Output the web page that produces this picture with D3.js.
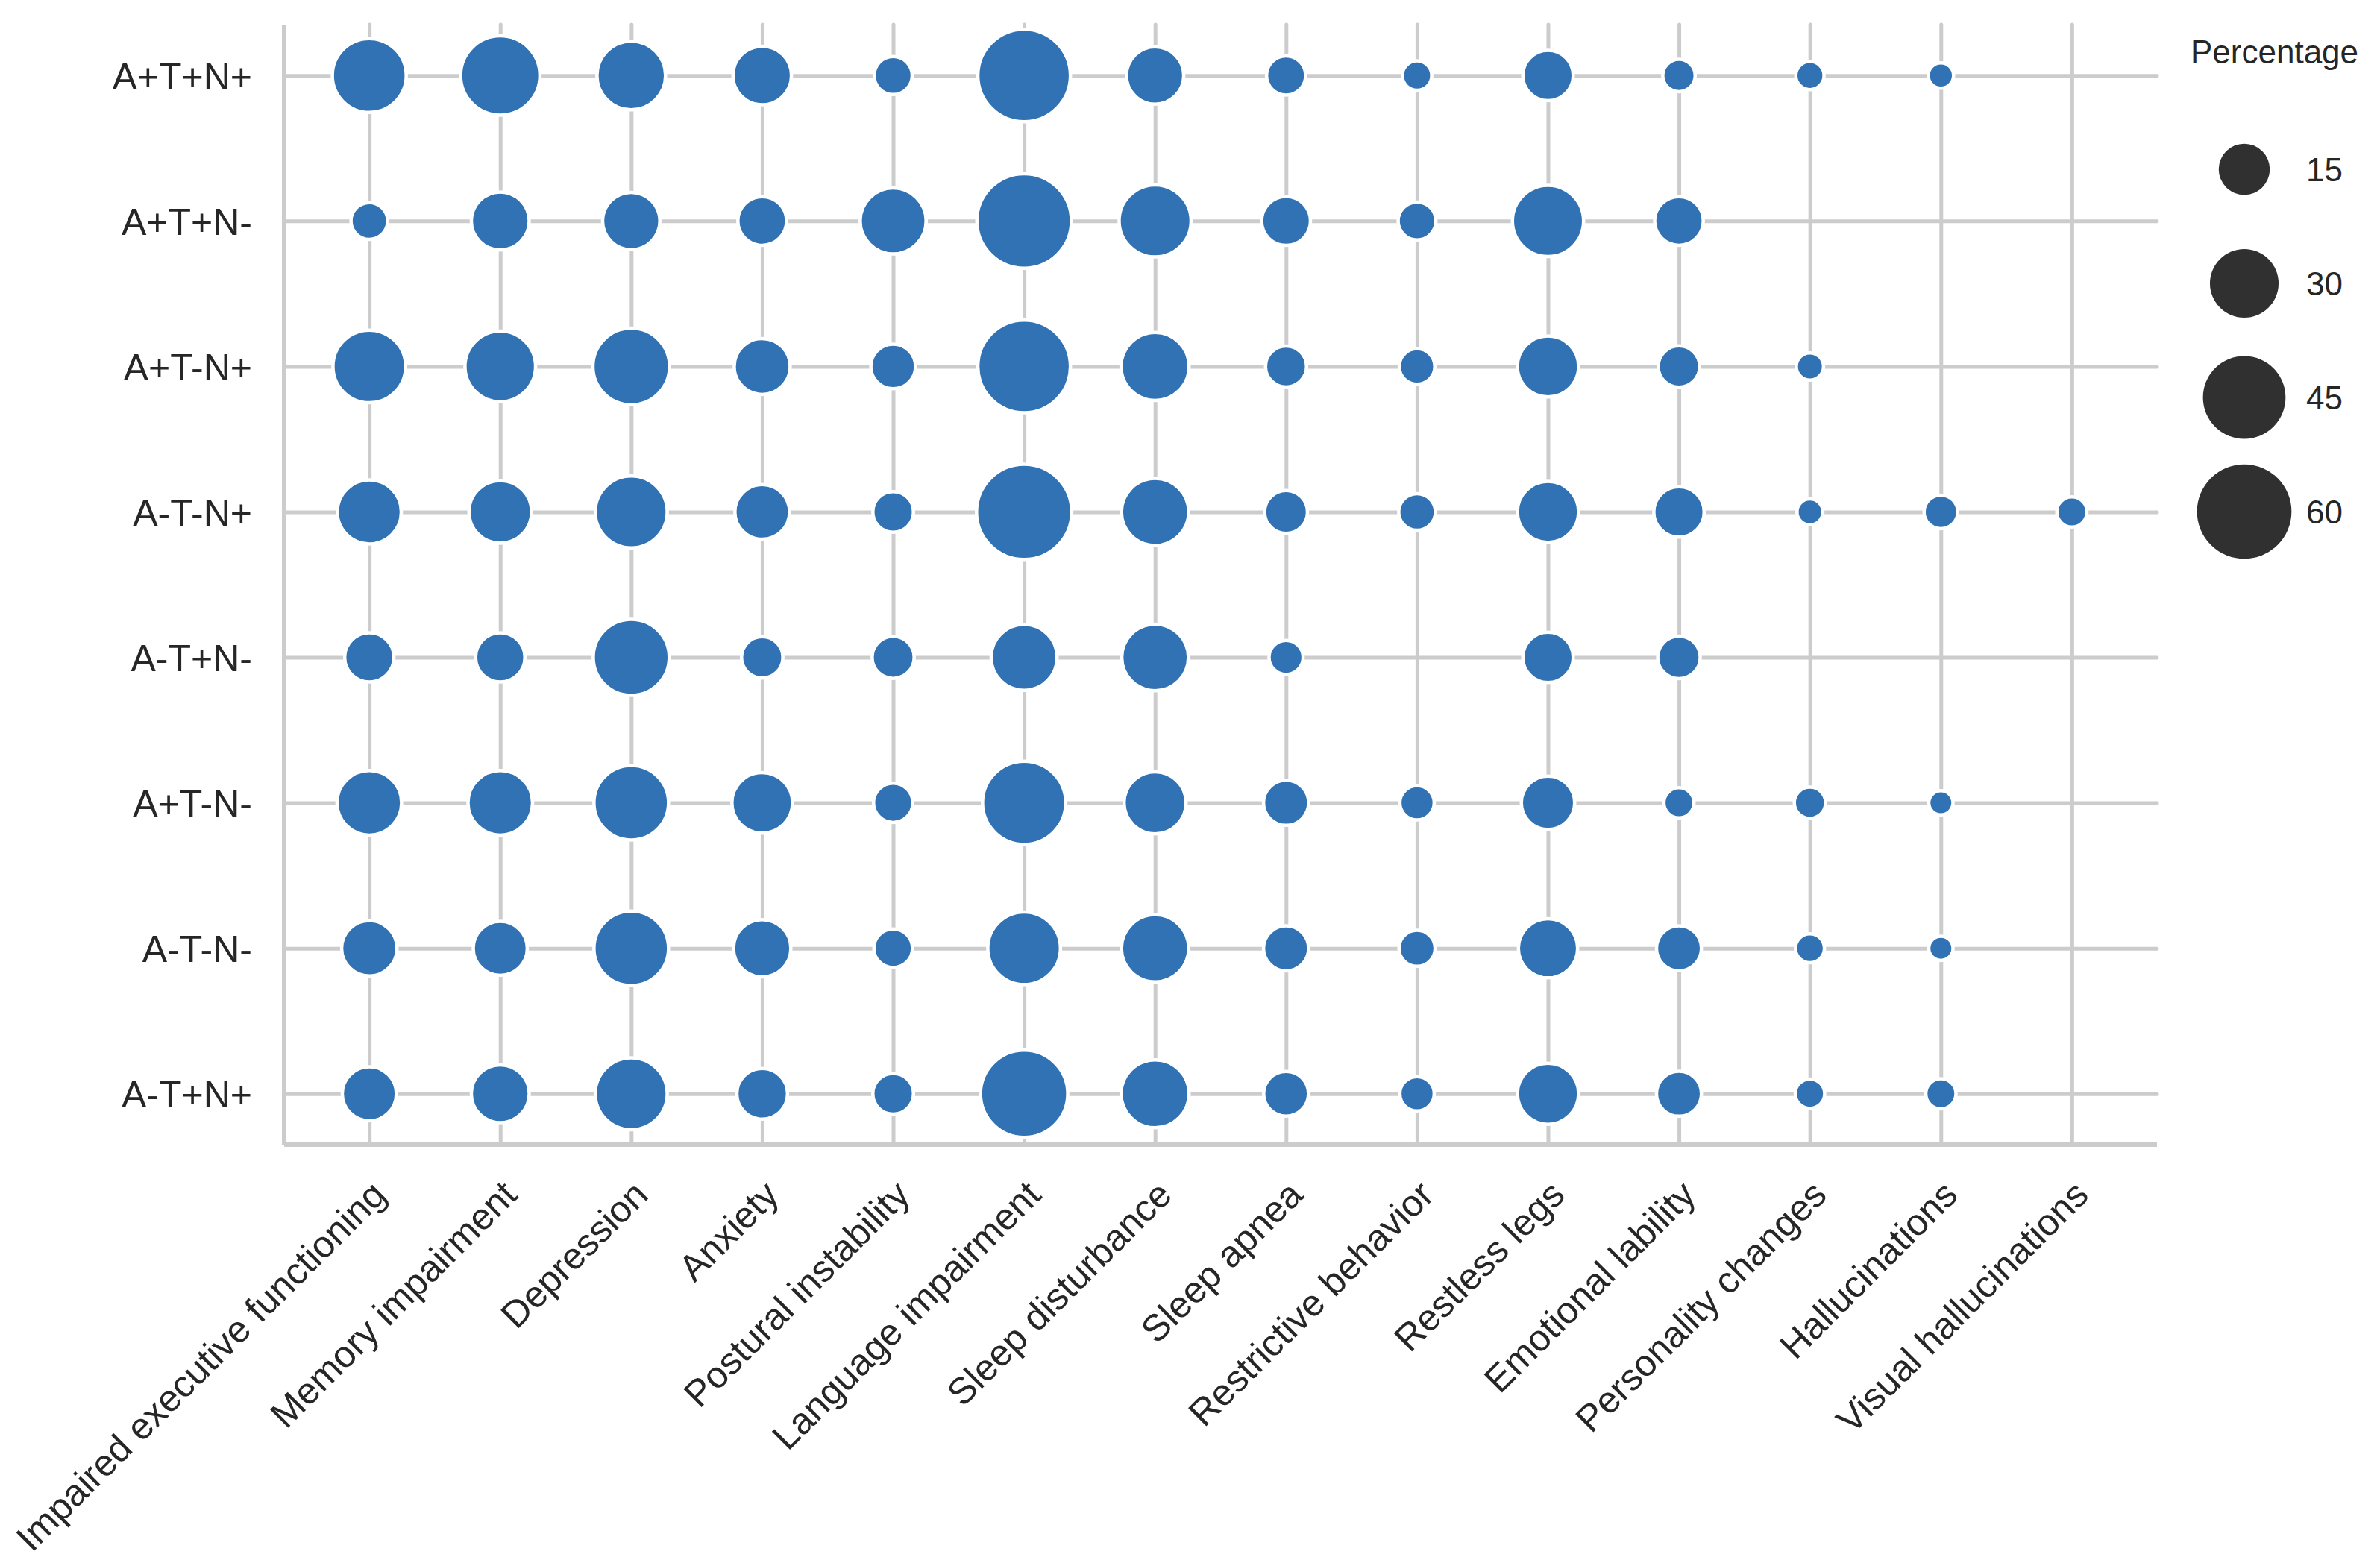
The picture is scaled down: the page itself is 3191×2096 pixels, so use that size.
<!DOCTYPE html>
<html>
<head>
<meta charset="utf-8">
<script src="https://cdn.jsdelivr.net/npm/d3@7"></script>
<style>
  body { margin: 0; background: #fff; }
  text { font-family: "Liberation Sans", Arial, Helvetica, sans-serif; fill: #262626; }
</style>
</head>
<body>
<div id="chart"></div>
<script>
const symptoms = [
  "Impaired executive functioning", "Memory impairment", "Depression", "Anxiety",
  "Postural instability", "Language impairment", "Sleep disturbance", "Sleep apnea",
  "Restrictive behavior", "Restless legs", "Emotional lability", "Personality changes",
  "Hallucinations", "Visual hallucinations"
];
const groups = ["A+T+N+", "A+T+N-", "A+T-N+", "A-T-N+", "A-T+N-", "A+T-N-", "A-T-N-", "A-T+N+"];

// percentage per symptom, one array per biomarker group (null = not reported)
const pctApTpNp = [35.3, 41.2, 29.9, 20.8, 6.7, 57.4, 19.8, 7.3, 2.6, 14.5, 3.9, 2.1, 1.0, null];
const pctApTpNm = [6.0, 20.3, 19.8, 13.3, 27.4, 60.1, 33.3, 13.4, 6.6, 32.5, 13.3, null, null, null];
const pctApTmNp = [34.0, 31.9, 38.2, 18.7, 10.6, 57.4, 29.3, 8.4, 5.4, 23.0, 8.6, 1.7, null, null];
const pctAmTmNp = [25.6, 24.4, 33.3, 17.7, 8.2, 61.0, 28.6, 9.5, 6.0, 23.0, 14.5, 1.2, 4.5, 2.9];
const pctAmTpNm = [13.7, 13.7, 37.5, 8.6, 9.0, 27.4, 28.0, 4.7, null, 14.5, 9.3, null, null, null];
const pctApTmNm = [26.1, 26.1, 36.0, 22.6, 7.4, 45.7, 23.8, 10.9, 4.8, 16.7, 2.9, 3.4, 0.6, null];
const pctAmTmNm = [18.2, 17.2, 36.0, 19.8, 7.0, 34.0, 28.6, 10.9, 5.7, 21.4, 10.8, 2.4, 0.6, null];
const pctAmTpNp = [17.2, 20.3, 33.3, 14.7, 8.2, 50.6, 29.3, 10.7, 4.8, 23.0, 10.8, 2.6, 2.9, null];

const legendValues = [15, 30, 45, 60];

const rowsByGroup = [pctApTpNp, pctApTpNm, pctApTmNp, pctAmTmNp, pctAmTpNm, pctApTmNm, pctAmTmNm, pctAmTpNp];

const points = [];
groups.forEach((g, i) => {
  rowsByGroup[i].forEach((v, j) => {
    if (v != null) points.push({ group: g, symptom: symptoms[j], value: v });
  });
});

const W = 3191, H = 2096;
const plot = { left: 381, right: 2892, top: 33, bottom: 1535 };

const svg = d3.select("#chart").append("svg")
  .attr("width", W).attr("height", H)
  .style("display", "block");

const x = d3.scalePoint().domain(symptoms).range([plot.left, plot.right]).padding(0.65);
const y = d3.scalePoint().domain(groups).range([plot.top, plot.bottom]).padding(0.35);

// marker area (diameter squared) grows linearly with the percentage
const size = d3.scaleLinear().domain([0, 60]).range([904, 904 + 252.5 * 60]);
const radius = v => Math.sqrt(size(v)) / 2;

// grid
const xGrid = svg.append("g")
  .attr("transform", `translate(0,${plot.bottom})`)
  .call(d3.axisBottom(x).tickSize(-(plot.bottom - plot.top)).tickFormat(""));
const yGrid = svg.append("g")
  .attr("transform", `translate(${plot.left},0)`)
  .call(d3.axisLeft(y).tickSize(-(plot.right - plot.left)).tickFormat(""));
[xGrid, yGrid].forEach(g => {
  g.select(".domain").remove();
  g.selectAll("line").attr("stroke", "#cccccc").attr("stroke-width", 5).attr("stroke-linecap", "round");
});

// spines (left + bottom only)
svg.append("line").attr("x1", plot.left).attr("x2", plot.left).attr("y1", plot.top).attr("y2", plot.bottom)
  .attr("stroke", "#cccccc").attr("stroke-width", 6);
svg.append("line").attr("x1", plot.left).attr("x2", plot.right).attr("y1", plot.bottom).attr("y2", plot.bottom)
  .attr("stroke", "#cccccc").attr("stroke-width", 6);

// bubbles
svg.append("g").selectAll("circle")
  .data(points)
  .join("circle")
  .attr("cx", d => x(d.symptom))
  .attr("cy", d => y(d.group))
  .attr("r", d => radius(d.value))
  .attr("fill", "#3072b3")
  .attr("stroke", "#ffffff")
  .attr("stroke-width", 4.5);

// y labels
const yAx = svg.append("g")
  .attr("transform", `translate(${plot.left},0)`)
  .call(d3.axisLeft(y).tickSize(0).tickPadding(43));
yAx.select(".domain").remove();
yAx.selectAll("text")
  .attr("font-size", 50)
  .attr("font-family", "Liberation Sans, Arial, sans-serif")
  .attr("fill", "#262626")
  .attr("dy", "0.36em");

// x labels, rotated 45deg, anchored at their top-right corner
svg.append("g").selectAll("text")
  .data(symptoms)
  .join("text")
  .attr("transform", d => `translate(${x(d)},1580) rotate(-45)`)
  .attr("text-anchor", "end")
  .attr("dy", "0.71em")
  .attr("font-size", 50)
  .text(d => d);

// size legend
const legend = svg.append("g");
legend.append("text")
  .attr("x", 2937).attr("y", 85)
  .attr("font-size", 44)
  .text("Percentage");

const ly = d3.scalePoint().domain(legendValues).range([227, 686]);
const items = legend.selectAll("g.item")
  .data(legendValues)
  .join("g")
  .attr("class", "item")
  .attr("transform", d => `translate(0,${ly(d)})`);
items.append("circle")
  .attr("cx", 3009)
  .attr("r", d => radius(d))
  .attr("fill", "#303030");
items.append("text")
  .attr("x", 3092)
  .attr("dy", "0.36em")
  .attr("font-size", 44)
  .text(d => d);
</script>
</body>
</html>
